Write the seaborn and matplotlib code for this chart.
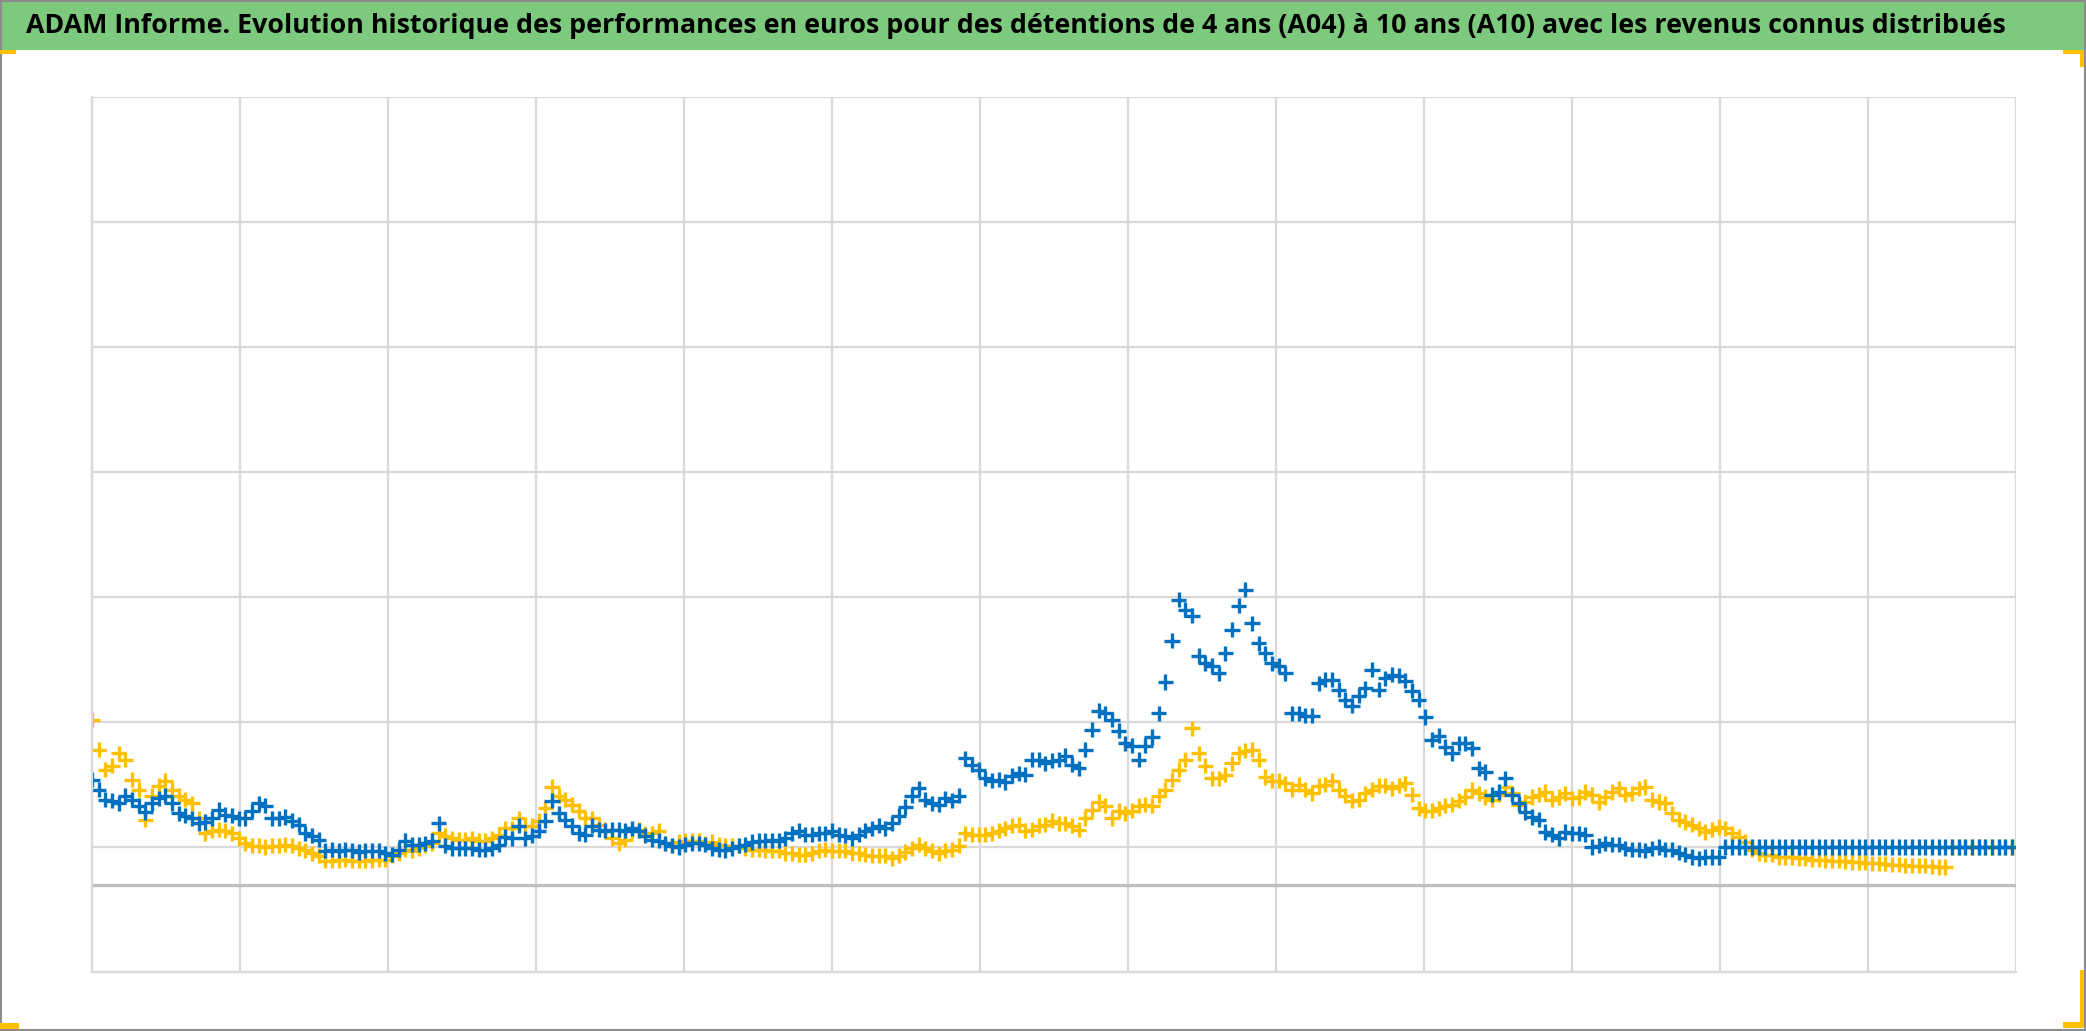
import numpy as np
import pandas as pd
import matplotlib
matplotlib.use("Agg")
import matplotlib.pyplot as plt
import seaborn as sns
from matplotlib import font_manager
from matplotlib.patches import Rectangle

# Titre du graphique
titre = ("ADAM Informe. Evolution historique des performances en euros pour des détentions "
         "de 4 ans (A04) à 10 ans (A10) avec les revenus connus distribués")

pas = 1 / 22.2

# Performance (%) - série bleue (A10)
a10_bleu = [
    84, 76, 68, 67, 65, 71, 68, 63, 58, 65,
    69, 71, 65, 57, 55, 53, 49, 50, 53, 60,
    56, 55, 53, 53, 59, 65, 63, 53, 53, 54,
    51, 48, 41, 39, 36, 27, 28, 27, 28, 27.5,
    26, 27, 27, 27, 25, 24, 28, 35, 32, 32,
    33, 35, 49, 31, 29, 29, 29, 29, 28, 28,
    29, 32, 38, 37, 47, 37, 39, 43, 51, 67,
    57, 52, 47, 41, 40, 47, 44, 43, 44, 44,
    43, 45, 43, 39, 36, 35, 33, 31, 30, 32,
    33, 33, 32, 29, 28, 27.5, 29, 31, 32, 34,
    35, 35, 35.5, 35, 37, 41, 43, 40, 40, 41,
    41, 43, 40, 39, 37, 40, 43, 45, 47, 45,
    49, 55, 62, 71, 77, 68, 65, 64, 69, 67,
    71, 101, 96, 92, 85, 83, 84, 82, 87, 89,
    88, 100, 100, 97, 99, 100, 103, 96, 93, 108,
    124, 139, 137, 132, 123, 113, 111, 100, 111, 118,
    137, 162, 195, 228, 220, 215, 183, 177, 175, 169,
    185, 204, 223, 236, 209, 193, 185, 177, 175, 169,
    137, 137, 135, 135, 161, 164, 164, 156, 148, 143,
    151, 157, 172, 156, 165, 168, 167, 163, 155, 148,
    134, 116, 119, 110, 105, 113, 113, 109, 93, 90,
    72, 74, 85, 72, 65, 58, 54, 52, 42, 40,
    37, 42, 41, 41, 40, 30, 31, 33, 32, 32,
    29, 28, 28, 27, 29, 30, 28, 28, 25.5, 24,
    22, 21, 22, 22, 22,
]
# Fin de période : valeur constante
a10_plat = [30.0] * 44

# Performance (%) - série jaune (A04)
a04_jaune = [
    132, 108, 92, 95, 105, 100, 84, 76, 52, 71,
    79, 83, 76, 71, 68, 65, 53, 41, 43, 44,
    43, 41, 37, 33, 31, 31, 30, 31, 31, 32,
    31, 29, 27.5, 25, 23, 19, 19, 19.5, 20, 19,
    19, 19, 19.5, 20, 20, 23, 25, 28, 27, 29,
    31, 33, 41, 39, 37, 36, 36, 37, 35, 35,
    37, 40, 45, 45, 53, 47, 47, 51, 61, 78,
    71, 68, 64, 59, 53, 53, 48, 44, 37, 33,
    36, 43, 44, 41, 41, 43, 33, 31, 34, 35,
    35, 35, 33, 34, 32, 31, 31, 31, 29, 28,
    28, 27.5, 27, 27, 25, 25, 24, 24, 25, 27,
    28, 27, 27, 27, 25, 25, 24, 23, 23, 23,
    21, 23, 26, 29, 32, 29, 27, 25, 27, 28,
    31, 41, 40, 40, 40, 41, 43, 45, 47, 48,
    43, 44, 47, 48, 51, 49, 49, 47, 44, 53,
    60, 66, 63, 53, 59, 57, 59, 63, 64, 63,
    71, 76, 84, 92, 100, 125, 105, 95, 85, 85,
    88, 97, 105, 107, 108, 100, 86, 83, 83, 81,
    76, 80, 76, 73, 79, 80, 83, 76, 71, 67,
    68, 73, 76, 79, 79, 77, 79, 81, 72, 61,
    59, 59, 61, 63, 64, 67, 70, 76, 73, 70,
    68, 72, 78, 73, 64, 66, 70, 72, 74, 68,
    70, 73, 69, 70, 74, 72, 66, 70, 74, 77,
    72, 73, 77, 78, 68, 66, 65, 57, 52, 50,
    48, 45, 42, 44, 46, 45, 41, 38, 34, 28,
    25, 24, 24, 22, 22, 22, 21, 21, 20, 20,
    19.5, 19, 19, 18.5, 18, 18, 17.5, 17, 17, 16.5,
    16, 16, 15.5, 15, 15, 15, 14.5, 14, 14,
]
a04_plat = [30.0] * 10

couleurs = {"A04": "#FFC000", "A10": "#0070C0"}

# Table longue pour seaborn (jaune d'abord, bleu dessiné par-dessus)
v_a04 = a04_jaune + a04_plat
v_a10 = a10_bleu + a10_plat
df = pd.concat([
    pd.DataFrame({"annee": np.arange(len(v_a04)) * pas, "perf": v_a04, "serie": "A04"}),
    pd.DataFrame({"annee": np.arange(len(v_a10)) * pas, "perf": v_a10, "serie": "A10"}),
], ignore_index=True)

sns.set_style("white")

W, H = 2086, 1031
fig = plt.figure(figsize=(W / 100, H / 100), dpi=100)

# Bandeau vert du titre
fig.patches.append(Rectangle((0, 1 - 50 / H), 1, 50 / H, transform=fig.transFigure,
                             facecolor="#7DC97D", edgecolor="none", zorder=0))

ax = fig.add_axes([92 / W, 1 - 972 / H, (2016 - 92) / W, (972 - 97) / H])
sns.scatterplot(data=df, x="annee", y="perf", hue="serie", palette=couleurs,
                marker="+", s=120, linewidth=2.4, legend=False, ax=ax)

ax.set_xlim(0, 13)
ax.set_ylim(-70, 630)
ax.set_xticks(np.arange(0, 14))
ax.set_yticks(np.arange(-70, 631, 100))
ax.set_axisbelow(True)
ax.grid(True, color="#D9D9D9", lw=1.6)
ax.tick_params(length=0, labelbottom=False, labelleft=False)
ax.set_xlabel("")
ax.set_ylabel("")
ax.axhline(0, color="#BFBFBF", lw=2.4, zorder=0.8)
for cote in ["top", "right"]:
    ax.spines[cote].set_visible(False)
for cote in ["left", "bottom"]:
    ax.spines[cote].set_color("#D9D9D9")
    ax.spines[cote].set_linewidth(1.6)

# Police du titre (étroite si disponible)
noms = {f.name for f in font_manager.fontManager.ttflist}
police = next((p for p in ["Liberation Sans Narrow", "Open Sans", "Lato", "DejaVu Sans"]
               if p in noms), "DejaVu Sans")
txt = fig.text((29 + 2002) / 2 / W, 1 - 26 / H, titre, ha="center", va="center",
               fontsize=20, fontweight="bold", family=police, color="black")
fig.canvas.draw()
largeur = txt.get_window_extent().width
txt.set_fontsize(20 * (2002 - 29) / largeur)

# Cadre gris et poignées jaunes de sélection
fig.patches.append(Rectangle((0.0005, 0.0005), 0.999, 0.999, transform=fig.transFigure,
                             fill=False, edgecolor="#8C8C8C", lw=1.5, zorder=5))
poignees = [(0, 50, 16, 4), (0, 1023, 19, 6), (2063, 50, 20, 4), (2080, 50, 4, 17),
            (2063, 1022, 20, 6), (2080, 970, 4, 57)]
for x0, y0, lw_, hh in poignees:
    fig.patches.append(Rectangle((x0 / W, 1 - (y0 + hh) / H), lw_ / W, hh / H,
                                 transform=fig.transFigure, facecolor="#FFC000",
                                 edgecolor="none", zorder=6))

fig.savefig("out.png", dpi=100)
